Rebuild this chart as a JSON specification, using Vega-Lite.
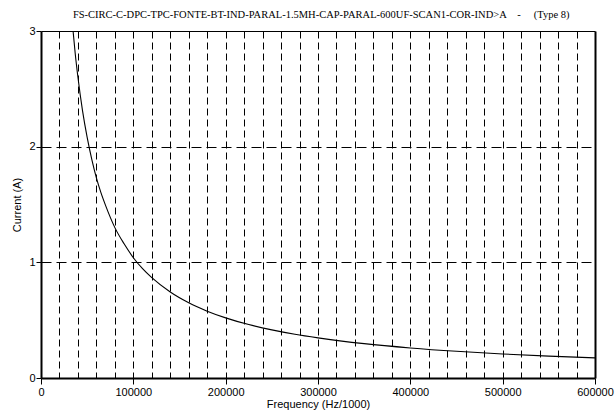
{
  "$schema": "https://vega.github.io/schema/vega-lite/v6.json",
  "autosize": "none",
  "width": 554,
  "height": 347,
  "padding": {"left": 41, "top": 31, "right": 20, "bottom": 35},
  "background": "white",
  "config": {
    "view": {"stroke": null},
    "font": "Liberation Sans"
  },
  "title": {
    "text": "FS-CIRC-C-DPC-TPC-FONTE-BT-IND-PARAL-1.5MH-CAP-PARAL-600UF-SCAN1-COR-IND>A\u00a0\u00a0\u00a0\u00a0-\u00a0\u00a0\u00a0\u00a0\u00a0(Type 8)",
    "font": "Liberation Serif",
    "fontSize": 10.5,
    "fontWeight": "normal",
    "anchor": "start",
    "dx": 61,
    "offset": 5,
    "color": "black"
  },
  "data": {
    "values": [
      {"f": 34500, "i": 3.02},
      {"f": 37000, "i": 2.81},
      {"f": 40000, "i": 2.6},
      {"f": 45000, "i": 2.31},
      {"f": 50000, "i": 2.08},
      {"f": 55000, "i": 1.89},
      {"f": 60000, "i": 1.73},
      {"f": 65000, "i": 1.6},
      {"f": 70000, "i": 1.49},
      {"f": 80000, "i": 1.3},
      {"f": 90000, "i": 1.16},
      {"f": 100000, "i": 1.04},
      {"f": 110000, "i": 0.945},
      {"f": 120000, "i": 0.867},
      {"f": 140000, "i": 0.743},
      {"f": 160000, "i": 0.65},
      {"f": 180000, "i": 0.578},
      {"f": 200000, "i": 0.52},
      {"f": 225000, "i": 0.462},
      {"f": 250000, "i": 0.416},
      {"f": 275000, "i": 0.378},
      {"f": 300000, "i": 0.347},
      {"f": 350000, "i": 0.297},
      {"f": 400000, "i": 0.26},
      {"f": 450000, "i": 0.231},
      {"f": 500000, "i": 0.208},
      {"f": 550000, "i": 0.189},
      {"f": 600000, "i": 0.174}
    ]
  },
  "resolve": {"axis": {"x": "independent", "y": "independent"}},
  "layer": [
    {
      "mark": {"type": "line", "color": "black", "strokeWidth": 1.1, "clip": true, "interpolate": "monotone"},
      "encoding": {
        "x": {
          "field": "f", "type": "quantitative",
          "scale": {"domain": [0, 600000], "nice": false, "zero": true},
          "axis": {
            "orient": "bottom",
            "title": "Frequency (Hz/1000)",
            "titleFont": "Liberation Sans",
            "titleFontSize": 11,
            "titleFontWeight": "normal",
            "titleColor": "black",
            "titlePadding": 1,
            "values": [0,20000,40000,60000,80000,100000,120000,140000,160000,180000,200000,220000,240000,260000,280000,300000,320000,340000,360000,380000,400000,420000,440000,460000,480000,500000,520000,540000,560000,580000,600000],
            "labelExpr": "datum.value % 100000 === 0 ? datum.value : ''",
            "labelFontSize": 11,
            "labelColor": "black",
            "labelPadding": 2,
            "labelFlush": false,
            "format": "d",
            "tickColor": "black",
            "tickSize": 6,
            "tickOpacity": {"condition": {"test": "datum.value % 100000 === 0", "value": 1}, "value": 0},
            "domainColor": "black",
            "domainWidth": 2,
            "grid": true,
            "gridColor": "black",
            "gridDash": [7, 4],
            "gridWidth": 1,
            "gridOpacity": {"condition": {"test": "datum.value === 0 || datum.value === 600000", "value": 0}, "value": 1}
          }
        },
        "y": {
          "field": "i", "type": "quantitative",
          "scale": {"domain": [0, 3], "nice": false},
          "axis": {
            "orient": "left",
            "title": "Current (A)",
            "titleFont": "Liberation Sans",
            "titleFontSize": 11,
            "titleFontWeight": "normal",
            "titleColor": "black",
            "titlePadding": 6,
            "values": [0, 1, 2, 3],
            "labelFontSize": 11,
            "labelColor": "black",
            "labelPadding": 1,
            "tickColor": "black",
            "tickSize": 5,
            "domainColor": "black",
            "domainWidth": 2,
            "grid": true,
            "gridColor": "black",
            "gridDash": [10, 5],
            "gridWidth": 1,
            "gridOpacity": {"condition": {"test": "datum.value === 0 || datum.value === 3", "value": 0}, "value": 1}
          }
        }
      }
    },
    {
      "mark": {"type": "line", "strokeOpacity": 0},
      "encoding": {
        "x": {
          "field": "f", "type": "quantitative",
          "scale": {"domain": [0, 600000], "nice": false},
          "axis": {"orient": "top", "title": null, "labels": false, "ticks": false, "grid": false, "domainColor": "black", "domainWidth": 1}
        },
        "y": {
          "field": "i", "type": "quantitative",
          "scale": {"domain": [0, 3], "nice": false},
          "axis": {"orient": "right", "title": null, "labels": false, "ticks": false, "grid": false, "domainColor": "black", "domainWidth": 2}
        }
      }
    }
  ]
}
